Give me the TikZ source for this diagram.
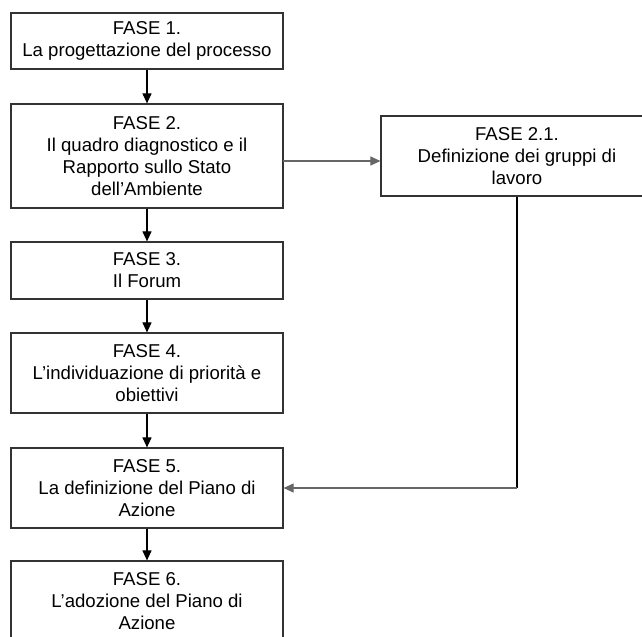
\documentclass[tikz,border=0pt]{standalone}
\usepackage{fontspec}
\setmainfont{Liberation Sans}
\usetikzlibrary{arrows.meta}
\tikzset{
  fbox/.style={draw=black!80, line width=1.2bp, minimum width=272bp, inner sep=0pt,
    align=center, font=\fontsize{18.6bp}{22bp}\selectfont},
  conn/.style={line width=1.1bp, -{Triangle[length=10bp,width=9bp]}},
  hconn/.style={conn, draw=black!60}
}
\begin{document}
\begin{tikzpicture}[x=1bp,y=-1bp]
\useasboundingbox (0,0) rectangle (642,637);
\clip (0,0) rectangle (642,637);
\node[fbox, minimum height=56bp] (b1) at (147,41) {FASE 1.\\La progettazione del processo};
\node[fbox, minimum height=104bp] (b2) at (147,156) {FASE 2.\\Il quadro diagnostico e il\\Rapporto sullo Stato\\dell’Ambiente};
\node[fbox, minimum height=80bp] (b21) at (517,156) {FASE 2.1.\\Definizione dei gruppi di\\lavoro};
\node[fbox, minimum height=57bp] (b3) at (147,270.5) {FASE 3.\\Il Forum};
\node[fbox, minimum height=80bp] (b4) at (147,373) {FASE 4.\\L’individuazione di priorità e\\obiettivi};
\node[fbox, minimum height=80bp] (b5) at (147,488) {FASE 5.\\La definizione del Piano di\\Azione};
\node[fbox, minimum height=80bp] (b6) at (147,601) {FASE 6.\\L’adozione del Piano di\\Azione};
\coordinate (h1) at (283,161);
\draw[conn] (b1) -- (b2);
\draw[conn] (b2) -- (b3);
\draw[conn] (b3) -- (b4);
\draw[conn] (b4) -- (b5);
\draw[conn] (b5) -- (b6);
\draw[hconn] (h1) -- (h1 -| b21.west);
\draw[line width=1.1bp] (b21.south) -- (b21.south |- b5.east);
\draw[hconn] (b21.south |- b5.east) -- (b5.east);
\end{tikzpicture}
\end{document}
